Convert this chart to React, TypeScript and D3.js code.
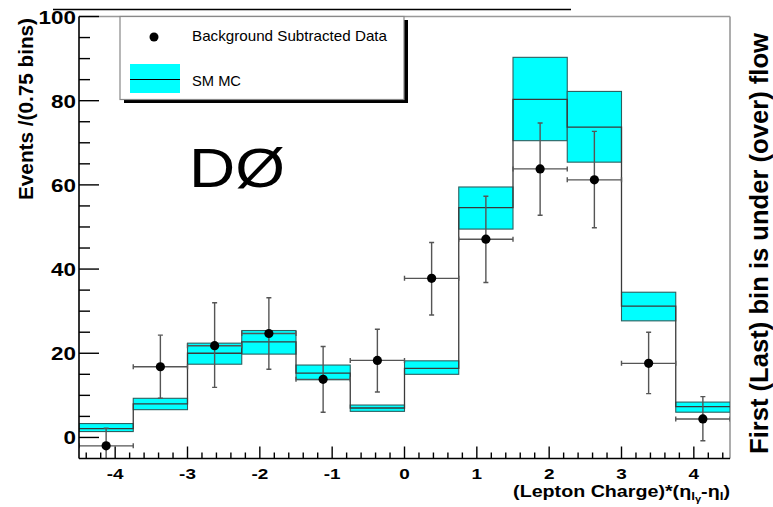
import React from "react";
import * as d3 from "d3";

// ---- data ----
const binEdges = [-4.5, -3.75, -3, -2.25, -1.5, -0.75, 0, 0.75, 1.5, 2.25, 3, 3.75, 4.5];
const mcCenter = [2.1, 8.0, 20.0, 22.7, 15.3, 7.0, 16.4, 54.6, 80.3, 73.7, 31.2, 7.3];
const mcLow = [1.4, 6.6, 17.4, 19.8, 13.7, 6.2, 15.0, 49.5, 70.5, 65.4, 27.7, 6.0];
const mcHigh = [3.3, 9.3, 22.4, 25.4, 17.2, 7.7, 18.2, 59.5, 90.3, 82.2, 34.5, 8.4];
const dataValue = [-2.0, 16.8, 21.8, 24.7, 13.8, 18.3, 37.8, 47.1, 63.8, 61.2, 17.6, 4.4];
const dataUpper = [2.2, 24.3, 32.0, 33.2, 21.6, 25.7, 46.3, 57.3, 74.7, 72.7, 25.0, 9.7];
const dataLower = [-6.2, 9.3, 11.9, 16.2, 6.0, 10.8, 29.1, 36.8, 52.8, 49.8, 10.4, -0.8];

const legendLabels = ["Background Subtracted Data", "SM MC"];
const yTitle = "Events /(0.75 bins)";
const rightLabel = "First (Last) bin is under (over) flow";
const experimentLabel = "D\u00D8";

const FONT = "'Liberation Sans', Arial, Helvetica, sans-serif";
const CYAN = "#00ffff";

export default function App() {
  const W = 773, H = 507;
  const x = d3.scaleLinear().domain([-4.5, 4.5]).range([79, 730]);
  const y = d3.scaleLinear().domain([-5, 100]).range([458.5, 16.5]);

  const [x0, x1] = x.range();
  const [yb, yt] = y.range();

  const xMajor = x.ticks(10);
  const xMinor = x.ticks(45).filter((t) => Math.abs(t - Math.round(t)) > 1e-6);
  const yMajor = y.ticks(5);
  const yMinor = y.ticks(20).filter((t) => t % 20 !== 0 && t > -5);

  const bins = mcCenter.map((c, i) => ({
    lo: binEdges[i],
    hi: binEdges[i + 1],
    c,
    low: mcLow[i],
    high: mcHigh[i],
    v: dataValue[i],
    up: dataUpper[i],
    dn: dataLower[i],
  }));

  const stepPts: [number, number][] = bins.map((b) => [b.lo, b.c]);
  stepPts.push([binEdges[binEdges.length - 1], mcCenter[mcCenter.length - 1]]);
  const step = d3
    .line<[number, number]>()
    .x((d) => x(d[0]))
    .y((d) => y(d[1]))
    .curve(d3.curveStepAfter);

  const errColor = "#555";
  const cap = 2.5;

  return (
    <svg
      width={W}
      height={H}
      style={{ position: "fixed", left: 0, top: 0, background: "#fff" }}
      fontFamily={FONT}
    >
      <defs>
        <clipPath id="frame">
          <rect x={x0} y={yt} width={x1 - x0} height={yb - yt} />
        </clipPath>
      </defs>
      <rect x={0} y={0} width={W} height={H} fill="#fff" />

      {/* stray top line */}
      <line x1={53} x2={571} y1={9.5} y2={9.5} stroke="#000" strokeWidth={1.6} />

      {/* frame top/right */}
      <line x1={x0} x2={x1} y1={yt} y2={yt} stroke="#999" strokeWidth={1.6} />
      <line x1={x1} x2={x1} y1={yt} y2={yb} stroke="#999" strokeWidth={1.6} />

      <g clipPath="url(#frame)">
        {/* MC uncertainty bands */}
        {bins.map((b, i) => (
          <rect
            key={"band" + i}
            x={x(b.lo)}
            width={x(b.hi) - x(b.lo)}
            y={y(b.high)}
            height={y(b.low) - y(b.high)}
            fill={CYAN}
            stroke="#2d5f5f"
            strokeWidth={1.1}
          />
        ))}
        {/* MC central histogram */}
        <path d={step(stepPts) || ""} fill="none" stroke="#3a3a3a" strokeWidth={1.3} />

        {/* data error bars */}
        {bins.map((b, i) => {
          const cx = x((b.lo + b.hi) / 2);
          const cy = y(b.v);
          return (
            <g key={"err" + i} stroke={errColor} strokeWidth={1.4}>
              <line x1={cx} x2={cx} y1={y(b.up)} y2={y(b.dn)} />
              <line x1={cx - cap} x2={cx + cap} y1={y(b.up)} y2={y(b.up)} />
              <line x1={cx - cap} x2={cx + cap} y1={y(b.dn)} y2={y(b.dn)} />
              <line x1={x(b.lo)} x2={x(b.hi)} y1={cy} y2={cy} />
              <line x1={x(b.lo)} x2={x(b.lo)} y1={cy - cap} y2={cy + cap} />
              <line x1={x(b.hi)} x2={x(b.hi)} y1={cy - cap} y2={cy + cap} />
            </g>
          );
        })}
        {bins.map((b, i) => (
          <circle key={"pt" + i} cx={x((b.lo + b.hi) / 2)} cy={y(b.v)} r={4.6} fill="#000" />
        ))}
      </g>

      {/* axes */}
      <line x1={x0} x2={x0} y1={yt} y2={yb} stroke="#000" strokeWidth={1.6} />
      <line x1={x0} x2={x1} y1={yb} y2={yb} stroke="#000" strokeWidth={1.6} />
      {yMajor.map((t) => (
        <line key={"ym" + t} x1={x0} x2={x0 + 20} y1={y(t)} y2={y(t)} stroke="#000" strokeWidth={1.4} />
      ))}
      {yMinor.map((t) => (
        <line key={"yn" + t} x1={x0} x2={x0 + 11} y1={y(t)} y2={y(t)} stroke="#000" strokeWidth={1.4} />
      ))}
      {xMajor.map((t) => (
        <line key={"xm" + t} x1={x(t)} x2={x(t)} y1={yb} y2={yb - 12} stroke="#000" strokeWidth={1.4} />
      ))}
      {xMinor.map((t) => (
        <line key={"xn" + t} x1={x(t)} x2={x(t)} y1={yb} y2={yb - 6} stroke="#000" strokeWidth={1.4} />
      ))}

      {/* tick labels */}
      {yMajor.map((t) => (
        <g key={"yl" + t} transform={`translate(76,${y(t) + 7}) scale(1.18,1)`}>
          <text textAnchor="end" fontSize={19} fontWeight="bold" fill="#000">
            {t}
          </text>
        </g>
      ))}
      {xMajor.map((t) => (
        <g key={"xl" + t} transform={`translate(${x(t)},478.5) scale(1.22,1)`}>
          <text textAnchor="middle" fontSize={15.5} fontWeight="bold" fill="#000">
            {t < 0 ? "-" + Math.abs(t) : String(t)}
          </text>
        </g>
      ))}

      {/* axis titles */}
      <g transform="translate(730,497) scale(1.23,1)">
        <text textAnchor="end" fontSize={16} fontWeight="bold" fill="#000">
          (Lepton Charge)*(η
          <tspan fontSize={11} dy={3}>l</tspan>
          <tspan fontSize={9} dy={2}>γ</tspan>
          <tspan dy={-5}>-η</tspan>
          <tspan fontSize={11} dy={3}>l</tspan>
          <tspan dy={-3}>)</tspan>
        </text>
      </g>
      <g transform="translate(33,18) rotate(-90)">
        <text textAnchor="end" fontSize={20} fontWeight="bold" fill="#000" textLength={182} lengthAdjust="spacingAndGlyphs">
          {yTitle}
        </text>
      </g>
      <g transform="translate(768,454) rotate(-90)">
        <text textAnchor="start" fontSize={25} fontWeight="bold" fill="#000" textLength={421} lengthAdjust="spacingAndGlyphs">
          {rightLabel}
        </text>
      </g>

      {/* legend */}
      <rect x={124} y={20} width={284} height={83} fill="#000" />
      <rect x={120} y={16.5} width={284} height={83} fill="#fff" stroke="#888" strokeWidth={1.2} />
      <circle cx={154} cy={37} r={4.5} fill="#000" />
      <text x={192} y={41} fontSize={14.5} fill="#000" textLength={195} lengthAdjust="spacingAndGlyphs">
        {legendLabels[0]}
      </text>
      <rect x={130} y={64} width={50} height={29} fill={CYAN} />
      <line x1={130} x2={180} y1={79.5} y2={79.5} stroke="#000" strokeWidth={1} />
      <text x={192} y={86} fontSize={14.5} fill="#000" textLength={49} lengthAdjust="spacingAndGlyphs">
        {legendLabels[1]}
      </text>

      {/* experiment label */}
      <text x={189} y={187} fontSize={56} fill="#000" textLength={96} lengthAdjust="spacingAndGlyphs">
        {experimentLabel}
      </text>
    </svg>
  );
}
